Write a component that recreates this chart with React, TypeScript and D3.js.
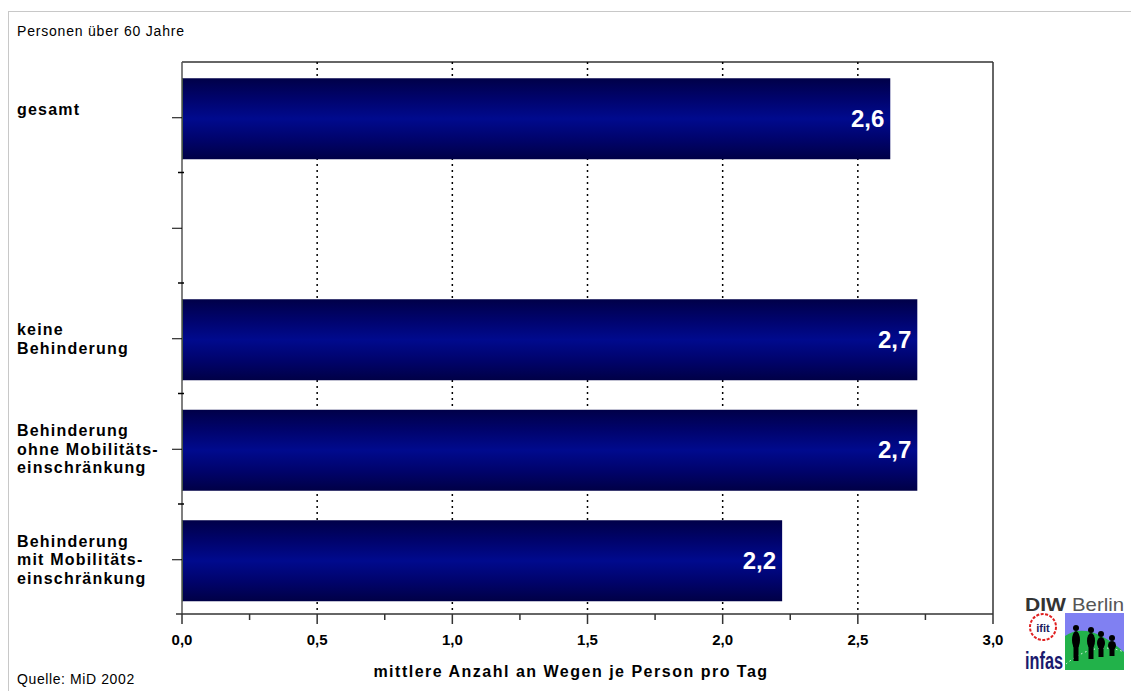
import React from "react";
import * as d3 from "d3";

const categories = ["gesamt", "leer", "keine", "ohne", "mit"];
const categoryLines: string[][] = [
  ["gesamt"],
  [],
  ["keine", "Behinderung"],
  ["Behinderung", "ohne Mobilitäts-", "einschränkung"],
  ["Behinderung", "mit Mobilitäts-", "einschränkung"],
];
const values: (number | null)[] = [2.62, null, 2.72, 2.72, 2.22];
const valueLabels = ["2,6", "", "2,7", "2,7", "2,2"];
const xTicks = [0, 0.5, 1, 1.5, 2, 2.5, 3];
const xMinorTicks = [0.25, 0.75, 1.25, 1.75, 2.25, 2.75];

const W = 1131;
const H = 691;
const left = 182;
const right = 993;
const top = 62;
const bottom = 614;
const font = "'Liberation Sans', Arial, sans-serif";

export default function App() {
  const x = d3.scaleLinear().domain([0, 3]).range([left, right]);
  const y = d3
    .scaleBand<string>()
    .domain(categories)
    .range([top + 1.5, top + 1.5 + 552.5])
    .paddingInner(0.267)
    .paddingOuter(0.1335);
  const step = y.step();
  const fmt = (v: number) => d3.format(".1f")(v).replace(".", ",");

  return (
    <svg
      width={W}
      height={H}
      style={{ position: "absolute", left: 0, top: 0, background: "#fff" }}
      fontFamily={font}
    >
      <defs>
        <linearGradient id="barGrad" x1="0" y1="0" x2="0" y2="1">
          <stop offset="0" stopColor="#000048" />
          <stop offset="0.25" stopColor="#00036c" />
          <stop offset="0.5" stopColor="#000a8e" />
          <stop offset="0.75" stopColor="#00036c" />
          <stop offset="1" stopColor="#000046" />
        </linearGradient>
      </defs>
      {/* outer frame */}
      <rect x={8.5} y={11.5} width={W + 20} height={H + 20} fill="none" stroke="#c8c8c8" strokeWidth={1} />
      <text x={17} y={36} fontSize={14} letterSpacing={0.8} fill="#000">Personen über 60 Jahre</text>

      {/* plot frame top & right */}
      <line x1={left} x2={right} y1={top} y2={top} stroke="#333" strokeWidth={1.5} />
      <line x1={right} x2={right} y1={top} y2={bottom} stroke="#333" strokeWidth={1.5} />

      {/* dotted gridlines */}
      {xTicks.slice(1, -1).map((t) => (
        <line key={"g" + t} x1={x(t)} x2={x(t)} y1={top} y2={bottom} stroke="#000" strokeWidth={1.5} strokeDasharray="2,4" />
      ))}

      {/* bars */}
      {categories.map((c, i) => {
        const v = values[i];
        if (v == null) return null;
        const y0 = y(c)!;
        return (
          <g key={c}>
            <rect x={x(0)} y={y0} width={x(v) - x(0)} height={y.bandwidth()} fill="url(#barGrad)" />
            <line x1={x(0) + 0.5} x2={x(0) + 0.5} y1={y0} y2={y0 + y.bandwidth()} stroke="#1a5a1a" strokeWidth={1} />
            <text
              x={x(v) - 6}
              y={y0 + y.bandwidth() / 2 + 8}
              textAnchor="end"
              fontSize={24}
              fontWeight="bold"
              fill="#fff"
            >
              {valueLabels[i]}
            </text>
          </g>
        );
      })}

      {/* y axis */}
      <line x1={left} x2={left} y1={top} y2={bottom} stroke="#555" strokeWidth={1.5} />
      {categories.map((c, i) => {
        const cy = y(c)! + y.bandwidth() / 2 - 1;
        const lines = categoryLines[i];
        const lh = 18.5;
        const startY =
          lines.length === 1 ? cy - 3 : cy + 5.5 - ((lines.length - 1) * lh) / 2;
        return (
          <g key={"ya" + c}>
            <line x1={left - 10} x2={left} y1={cy} y2={cy} stroke="#000" strokeWidth={1} />
            {lines.map((ln, j) => (
              <text key={j} x={17} y={startY + j * lh} fontSize={16} fontWeight="bold" letterSpacing={1.2} fill="#000">
                {ln}
              </text>
            ))}
          </g>
        );
      })}
      {d3.range(1, categories.length).map((k) => {
        const by = y.range()[0] + k * step - 1.5;
        return <line key={"b" + k} x1={left - 4} x2={left + 2} y1={by} y2={by} stroke="#000" strokeWidth={1.5} />;
      })}

      {/* x axis */}
      <line x1={left - 6} x2={right} y1={bottom} y2={bottom} stroke="#333" strokeWidth={1.5} />
      {xTicks.map((t) => (
        <g key={"xt" + t}>
          <line x1={x(t)} x2={x(t)} y1={bottom} y2={bottom + 10} stroke="#333" strokeWidth={1.5} />
          <text x={x(t)} y={bottom + 31} textAnchor="middle" fontSize={15} fontWeight="bold" fill="#000">
            {fmt(t)}
          </text>
        </g>
      ))}
      {xMinorTicks.map((t) => (
        <line key={"xm" + t} x1={x(t)} x2={x(t)} y1={bottom} y2={bottom + 6} stroke="#333" strokeWidth={1.5} />
      ))}
      <text x={571} y={677} textAnchor="middle" fontSize={16} fontWeight="bold" fill="#000" letterSpacing={1.5}>
        mittlere Anzahl an Wegen je Person pro Tag
      </text>
      <text x={17} y={684} fontSize={14} letterSpacing={0.6} fill="#000">Quelle: MiD 2002</text>

      {/* logos */}
      <g>
        <text x={1025} y={611} fontSize={19} fontWeight="bold" fill="#333" textLength={41} lengthAdjust="spacingAndGlyphs">DIW</text>
        <text x={1072} y={611} fontSize={19} fill="#555" textLength={52} lengthAdjust="spacingAndGlyphs">Berlin</text>
        <circle cx={1043} cy={627} r={13} fill="#fff" stroke="#e02020" strokeWidth={2} strokeDasharray="3,1.5" />
        <text x={1043} y={632} textAnchor="middle" fontSize={11} fontWeight="bold" fill="#202060">ifit</text>
        <text x={1025} y={669} fontSize={24} fontWeight="bold" fill="#1a1a6e" textLength={38} lengthAdjust="spacingAndGlyphs">infas</text>
        <rect x={1065} y={613} width={59} height={57} fill="#8080f2" />
        <path d="M1065,670 L1065,636 Q1088,620 1124,652 L1124,670 Z" fill="#22b24a" />
        <path d="M1066,664 Q1095,640 1124,652" fill="none" stroke="#fff" strokeWidth={1} strokeDasharray="1.5,3" />
        {[
          [1076, 628, 30],
          [1091, 630, 26],
          [1101, 634, 20],
          [1112, 638, 15],
        ].map(([fx, fy, fh], k) => (
          <g key={"f" + k}>
            <circle cx={fx} cy={fy} r={3} fill="#000" />
            <ellipse cx={fx} cy={fy + 3 + fh * 0.3} rx={4} ry={fh * 0.3} fill="#000" />
            <rect x={fx - 2.5} y={fy + 3 + fh * 0.5} width={5} height={fh * 0.5} fill="#000" />
          </g>
        ))}
      </g>
    </svg>
  );
}
